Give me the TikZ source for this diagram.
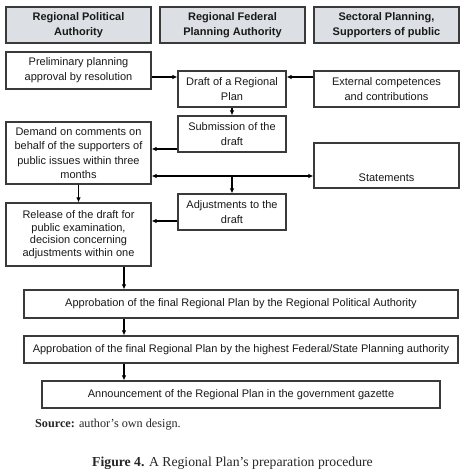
\documentclass[tikz,border=0pt]{standalone}
\usepackage{fontspec}
\setmainfont{Liberation Serif}
\setsansfont{Liberation Sans}
\usetikzlibrary{arrows.meta}
\definecolor{hdrfill}{HTML}{DCDFE3}
\definecolor{boxline}{HTML}{3A3A3A}
\begin{document}
\begin{tikzpicture}[x=1pt,y=-1pt,
  box/.style={draw=boxline, line width=1.1pt, fill=white, inner sep=0pt, align=center,
    font=\sffamily\fontsize{11}{15}\selectfont, text=black!90},
  hdr/.style={box, fill=hdrfill, font=\sffamily\bfseries\fontsize{11}{14.5}\selectfont},
  arr/.style={-{Latex[length=5pt,width=4.5pt]}, line width=1.1pt, black},
  darr/.style={{Latex[length=5pt,width=4.5pt]}-{Latex[length=5pt,width=4.5pt]}, line width=1.1pt, black},
  capt/.style={inner sep=0pt, text=black!85}
]
\useasboundingbox (0,0) rectangle (464,473);

% headers
\node[hdr, minimum width=145pt, minimum height=36pt] (h1) at (78.5,25) {Regional Political\\Authority};
\node[hdr, minimum width=145pt, minimum height=36pt] (h2) at (232.5,25) {Regional Federal\\Planning Authority};
\node[hdr, minimum width=145pt, minimum height=36pt] (h3) at (386.5,25) {Sectoral Planning,\\Supporters of public};

% process boxes
\node[box, minimum width=145pt, minimum height=37pt] (prelim) at (78.5,70.5) {Preliminary planning\\approval by resolution};
\node[box, minimum width=108pt, minimum height=36pt] (draft) at (232,89) {Draft of a Regional\\Plan};
\node[box, minimum width=145pt, minimum height=36pt] (external) at (386.5,89) {External competences\\and contributions};
\node[box, minimum width=108pt, minimum height=36pt] (submission) at (232,134) {Submission of the\\draft};
\node[box, minimum width=145pt, minimum height=62pt, font=\sffamily\fontsize{11}{14.3}\selectfont] (demand) at (78.5,153) {Demand on comments on\\behalf of the supporters of\\public issues within three\\months};
\node[box, minimum width=145pt, minimum height=45pt, text height=32pt, text depth=0pt] (statements) at (386.5,165.5) {Statements};
\node[box, minimum width=108pt, minimum height=36pt] (adjust) at (232,212) {Adjustments to the\\draft};
\node[box, minimum width=145pt, minimum height=63pt, font=\sffamily\fontsize{11}{12.6}\selectfont] (release) at (78.5,234.5) {Release of the draft for\\public examination,\\decision concerning\\adjustments within one};
\node[box, minimum width=434pt, minimum height=28pt] (app1) at (241,304) {Approbation of the final Regional Plan by the Regional Political Authority};
\node[box, minimum width=434pt, minimum height=27pt] (app2) at (241,349.5) {Approbation of the final Regional Plan by the highest Federal/State Planning authority};
\node[box, minimum width=398pt, minimum height=27pt] (announce) at (241,394.5) {Announcement of the Regional Plan in the government gazette};

% captions
\node[capt, anchor=west, font=\fontsize{12.2}{14}\selectfont] (source) at (35,425) {\textbf{Source:} author's own design.};
\node[capt, font=\fontsize{13.7}{15}\selectfont] (figcap) at (232.5,463) {\textbf{Figure 4.} A Regional Plan's preparation procedure};

% helper coordinates
\coordinate (ya) at (0,77);
\coordinate (yb) at (0,149);
\coordinate (yc) at (0,176);
\coordinate (yd) at (0,221);
\coordinate (xa) at (124,0);

% connectors
\draw[arr] (prelim.east |- ya) -- (draft.west |- ya);
\draw[arr] (external.west |- ya) -- (draft.east |- ya);
\draw[arr] (draft.south) -- (submission.north);
\draw[arr] (submission.west |- yb) -- (demand.east |- yb);
\draw[darr] (demand.east |- yc) -- (statements.west |- yc);
\draw[arr] (adjust.north |- yc) -- (adjust.north);
\draw[arr] (adjust.west |- yd) -- (release.east |- yd);
\draw[arr] (demand.south) -- (release.north);
\draw[arr] (xa |- release.south) -- (xa |- app1.north);
\draw[arr] (xa |- app1.south) -- (xa |- app2.north);
\draw[arr] (xa |- app2.south) -- (xa |- announce.north);
\end{tikzpicture}
\end{document}
